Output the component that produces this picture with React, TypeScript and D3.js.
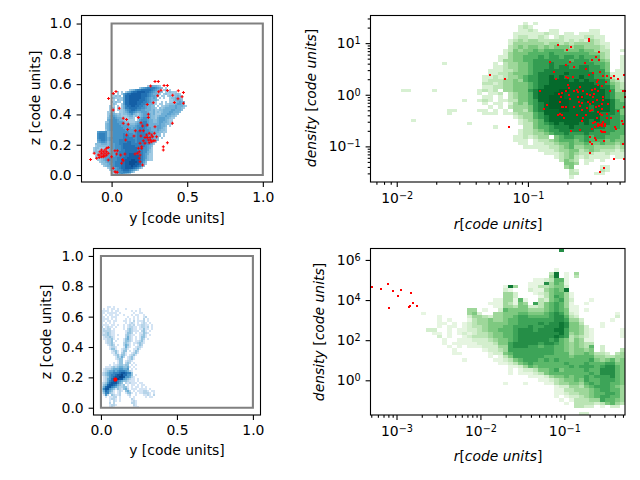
import * as d3 from 'd3'
import React, { useEffect, useRef } from 'react'

// 2d histograms, one string per row from the top, digit = colour level, '.' = empty bin
const topLeftHist = [
  '', '',
  '.......... .......... .......123 3321......',
  '.......... .......... ...1345666 65432.1...',
  '.......... ........12 3566777776 5432.12.1.',
  '.......... ..1.1.1346 7788887765 43222.1121 11',
  '.........1 2.1.146778 8888777654 3321.12111 1221',
  '.......... 1212.47788 8888777654 433.11.121 12321',
  '.........1 2111147788 8888776543 43.1.1..12 23321',
  '.......... 1.21147788 8887776543 331.....11 23332',
  '.........1 1211.47788 8877766543 21..1.1.11 123433',
  '.......... 21..147788 8877665433 11.11.1122 234432',
  '........1. 1.1.136778 8776654332 2.1.112233 3433321',
  '........11 2.1.136677 7766554332 21.2123333 343321',
  '........12 1.11124567 7655443332 3112233334 43332',
  '.......112 2..1123466 5433444322 3121233344 3332',
  '.......124 3212122345 3212344432 3111333443 322',
  '.......135 4322111233 1212344432 2123334332 21',
  '.......234 5433211122 1.13455432 2134443321 1',
  '.......345 5543321111 1.14555433 2234443211',
  '......1245 5544432211 1234566433 2234433211',
  '......2345 5554443322 2345666433 3334332211',
  '......2345 5555444433 3455666433 3344332.1.',
  '......2345 5555544443 4456665443 3344321...',
  '......1345 5555554444 4556665543 3343221...',
  '..45555234 5555555544 4566665544 3332211',
  '..56665234 5555565555 4566666544 3322.1',
  '..56665234 5555566655 5566666544 3322.1',
  '..56665345 5555566666 5566666554 332.1',
  '..45665344 5556666666 6566666554 322',
  '..34554234 5556666776 6566666543 21',
  '.222333234 4556677776 6666665543 1',
  '.122222234 4555677777 7666665432',
  '1221112234 4555677777 7766655431',
  '1211111233 4555667777 7766655421',
  '1221122234 4456667777 7776655321',
  '.121222344 4456667788 8776654311',
  '.112233444 4556667788 8887654211',
  '.112234455 5566677888 8887654211',
  '..11234455 5566778889 9887653211',
  '...1223445 5666778899 9987642',
  '....122344 5666778899 9887531',
  '.....12334 5666778889 887642',
  '.......123 3456778888 76531',
  '........12 3455677765 431',
  '.........1 2345566653 1',
  '.........1 123454321'
]

const bottomLeftHist = [
  '...11.1...',
  '.1.1.11.1. ..1......1',
  '1111.1.11. .....1.1.1',
  '11.11111.1 ......1..1 1',
  '1.1.11.11. .1...1.11. .1',
  '11.1.111.. ...1..1.1. .12',
  '1111.1.1.. ..1.1.1.1. .2.1',
  '11.11.11.. .11.1.2.11 12.1',
  '1.1.1.1... ..1.121.1. 121.1',
  '1111.11.1. .1.1212.11 2211.1',
  '2.1211.1.. .1.12211.1 2212.1',
  '12122.1... .1.23211.1 1311.1',
  '1222211... ..1232111. 231.1',
  '1123211... ..1332.1.1 1321',
  '1223211.1. ..23211..1 231.1',
  '.122321... ..2421.1.1 331',
  '.112231.1. .13421.1.1 32.1',
  '..1223.1.. .13321.112 31',
  '..12231... .2321.1123 21',
  '...1232.1. .2431.1.13 2.',
  '....1221.. .1421..122 1',
  '....1331.. 1231..1131',
  '.....1231. 133.1.132.',
  '.....1131. 231..1231.',
  '......1231 331.1231..',
  '.......132 42.1231...',
  '.......123 3..1231...',
  '........13 3.1221....',
  '......1.13 3.232.1...',
  '....1.1123 3233.1.1..',
  '..11123234 43341.1...',
  '.122234445 5445.1.1..',
  '.123445456 665421....',
  '1234556667 887663....',
  '1234566788 977553.1..',
  '.123567889 9855421...',
  '.124578898 8543211.1.',
  '.124678865 4332111.1.',
  '1235788864 3.212111.1 1',
  '1347887643 23.1.11.1. 11',
  '2478865432 2331.1.11. 1.1',
  '3688543132 1342.111.1 111.1',
  '2476431.12 1.342.1.11 1221.11',
  '1366321.12 ..1331.1.1 12221.1',
  '.152.32112 ...12..1.. .1121.2',
  '..1.1122.1 ....1.1... ..1.11',
  '....1221.1 .....21...',
  '....1.21.1 .....121..',
  '....2.2... .....221..',
  '....1221.. ......21..',
  '....121... ......111.'
]

const topRightHist = [
  '', '',
  '.......... .......... .......... 1.1.......',
  '.......... .......... .........1 21........',
  '.......... .......... .........1 121..11... ...11.....',
  '.......... .......... ........11 1111211.11 .1111.....',
  '.......... .......... ........12 21121.1211 112211....',
  '.......... .......... .......123 2332222212 121321....',
  '.......... .......... .......133 3333233232 3333211...',
  '.......... .......... .......234 3443434443 4433321...',
  '.......... .......... ......1243 4454555544 4544322..1',
  '.......... .......... ......1344 4555565555 5554432...',
  '.......... .......... .....11344 5556566566 5655532..1',
  '.......... .......... .....13344 5566666665 6665543..1',
  '.......... ....1..... ....1.2334 4566676666 6666554..1',
  '.......... .......... ....112334 4566676776 6776654..1',
  '.......... .......... ...1112234 4566777777 7776664.11',
  '.......... .......... ...1122344 4567777787 7777665111',
  '.......... .......... ..11212334 5667787877 7877665211',
  '.......... .......... ..12223343 5667788887 8787776321',
  '.......... .......... ..22123344 4567788888 8888776432',
  '.......... .......... ..11223344 4567888888 8888877532',
  '......11.. ..1....... .1212.3344 4678888998 8888887633',
  '.......... .......... .1.112.234 4578889988 8888887644',
  '.......... .......... ..11.1.234 4578899988 8988887644',
  '.......... ........1. .121.11224 4568899998 8898888754',
  '.......... .......... ..1.11.134 3567899998 8888888755',
  '.......... .......... ...1.1.233 3467899998 8887888755',
  '.......... .....11... .11.1.1.33 2467888998 8887888764',
  '.......... .....1.... ..111.1123 3356888888 8888877764',
  '.......... .......... ........12 3356788888 8888877665',
  '........1. .......... .........1 2345788888 8887877665',
  '.......... .........1 .........1 2245678788 8787777665',
  '.......... .......... ....1..... 2245567778 7777776665',
  '.......... .......... .........1 2234566777 7777666655',
  '.......... .......... .........1 2233456676 6676666555',
  '.......... .......... ........11 21233.4566 5565665554',
  '.......... .......... ........11 1.12234555 4565554544',
  '.......... .......... .........1 1.11223445 4454454434',
  '.......... .......... .......... 1111122345 3344333323',
  '.......... .......... .......... ...1112334 4234322212',
  '.......... .......... .......... ....111234 3222112111',
  '.......... .......... .......... ......1234 2121111.11',
  '.......... .......... .......... .......243 2.11.1....',
  '.......... .......... .......... ........44 3.1.......',
  '.......... .......... .......... ........34 .....11...',
  '.......... .......... .......... .........2 1....21...',
  '.......... .......... .......... .........2 2...11....',
  '.......... .......... .......... .........1'
]

const bottomRightHist = [
  '.......... .......... .......... .......8..',
  '', '', '', '', '',
  '.......... .......... .......... ......1...',
  '.......... .......... .......... .....39.1. 4.........',
  '.......... .......... .......... .....49.1. 3.........',
  '.......... .......... .......... ..1123661.',
  '.......... .......... .......... .11184651.',
  '.......... .......... ......194. .11334552.',
  '.......... .......... ......21.. .21145659.',
  '.......... .......... ......442. ..12356641',
  '.......... .......... ......442. ...1357641',
  '.......... .......... ....114416 1..3256742 ...1......',
  '.......... .......... ...1114315 4.73567641 ..1.......',
  '.......... .......... ....114435 5223567641 1.........',
  '.......... .........4 4.1..26555 5444567651 1.1.......',
  '.......... 1........4 52..445556 6555678752 1.......1.',
  '.......... ...1.....2 4432445567 7666678863 2.......2.',
  '.......... ...1.1...1 3445445667 7777778874 42.....1..',
  '.......... ...11.1.12 3445555667 7778788985 53...1....',
  '.......... ...1.11.12 3345556677 7877888985 542..1....',
  '.......... .22..1.112 2345566678 8878889975 5421.....1',
  '.......... ..11.1.121 2334556678 8888888974 5421.....1',
  '.......... ...2.1..12 3334556678 8888889873 4321.....1',
  '.......... ....1..111 2223455678 8888878653 5411......',
  '.......... ....1.1111 1222355788 8887887654 5433......',
  '.......... .....1.1.1 1122244788 8776776654 5436.2....',
  '.......... ......1... ..12234777 7777776654 5545.2...3',
  '.......... ......11.. ...1225677 7777776664 5565332.34',
  '.......... .......... ...1.13577 7777666665 6666443344',
  '.......... ........1. ....112356 7776767666 6667545645',
  '.......... .......... .....11235 6766666676 6676667755',
  '.......... .......... .......112 4656666667 6777678865',
  '.......... .......... .......1.1 2235567566 6676688865',
  '.......... .......... .......1.1 1123566666 6667688865',
  '.......... .......... .......... .111245565 6676777865',
  '.......... .......... .......... ...1123455 6576677765',
  '.......... .......... ......1... 1...113445 5467677665',
  '.......... .......... .......... ......1224 4356777654',
  '.......... .......... .......... ......1133 4445677664',
  '.......... .......... .......... ......1123 3445667764',
  '.......... .......... .......... ......1.12 2345677664',
  '.......... .......... .......... .......1.1 3334476654',
  '.......... .......... .......... ........1. 3333235643',
  '.......... .......... .......... .......... 3322.1.22.',
  '',
  '.......... .......... .......... .......... .22.......'
]

// red particles, y and z in code units
const topLeftRedY = [.287,.309,.258,.347,.369,.311,.327,.369,.441,.475,.305,.404,.439,.466,.415,.475,.276,.402,-.02,.011,.029,.051,.011,.236,.243,.177,.077,.099,.11,.077,.194,.243,.236,.287,.106,.188,.157,.205,.21,.099,.148,.093,.194,.232,.249,.265,.236,.254,.272,.243,.258,.276,.249,.265,.287,.298,.283,.21,.221,.342,.342,.369,.188,.177,.199,.183,.188,.17,.199,.183,.188,.205,.155,.221,-.115,-.099,-.139,-.088,-.077,-.077,-.066,-.066,-.066,-.055,-.055,-.055,-.044,-.044,-.044,-.033,-.033,-.033,-.022,-.022,-.022,-.082,.022,.038,.033,.06,.073,.066,0,.011,.029,.022,.038,.077,.088]
const topLeftRedZ = [.618,.618,.587,.591,.591,.549,.56,.558,.556,.545,.523,.527,.503,.516,.479,.473,.477,.341,.505,.538,.552,.44,.429,.466,.402,.38,.374,.367,.336,.341,.345,.38,.33,.319,.301,.292,.292,.323,.292,.264,.257,.231,.257,.264,.275,.264,.248,.248,.253,.231,.231,.226,.213,.22,.226,.253,.275,.226,.248,.187,.165,.213,.209,.176,.176,.154,.132,.143,.187,.11,.088,.066,.138,.209,.143,.11,.103,.132,.154,.132,.165,.143,.121,.154,.132,.121,.165,.143,.125,.176,.154,.132,.182,.143,.099,.116,.16,.16,.138,.132,.103,.077,.121,.044,.018,.022,.018,.095,.138]

const bottomLeftRedY = [.089,.091,.092,.093,.094,.094,.095,.095,.096,.097,.098,.099,.1,.101]
const bottomLeftRedZ = [.186,.182,.19,.185,.179,.188,.183,.192,.186,.181,.189,.184,.187,.183]

// log10 of radius and density for the red particles
const topRightRedR = [-1.29,-1.175,-1.145,-.909,-.878,-.858,-.832,-.787,-.802,-.774,-.7,-.668,-.706,-.68,-.65,-.538,-.538,-.457,-.48,-.457,-.566,-.515,-.56,-.533,-.503,-.452,-.43,-.4,-.343,-.363,-.312,-.269,-.71,-.693,-.66,-.693,-.685,-.706,-.744,-.761,-.751,-.756,-.731,-.744,-.706,-.756,-.726,-.744,-.769,-.68,-.685,-.65,-.629,-.604,-.617,-.579,-.591,-.617,-.609,-.65,-.624,-.604,-.584,-.591,-.579,-.591,-.561,-.548,-.541,-.528,-.548,-.49,-.515,-.464,-.495,-.477,-.464,-.464,-.439,-.406,-.376,-.503,-.472,-.503,-.528,-.482,-.462,-.508,-.523,-.464,-.439,-.426,-.43,-.439,-.388,-.396,-.312,-.282,-.279,-.274,-.261,-.261,-.269,-.503,-.452,-.439,-.477,-.49,-.464,-.452,-.426,-.413,-.439,-.413,-.464,-.439,-.49,-.401,-.363,-.338,-.325,-.515,-.439,-.426,-.413,-.444,-.668,-.604,-.528,-.523,-.508,-.49,-.482,-.421,-.523,-.279,-.345,-.269,-.452,-.421]
const topRightRedD = [.39,.3,-.62,.08,-.27,-.2,.64,.31,.44,.97,.87,.92,.58,.64,.53,1.08,1.05,.82,.74,.67,.61,.67,.5,.39,.42,.44,.37,.37,.37,.32,.3,.39,.35,.33,.34,.18,.135,.08,.03,.02,-.045,-.14,-.24,-.24,-.24,-.37,-.45,-.4,-.4,-.08,-.01,.08,.1,.15,.05,.08,-.045,-.045,-.14,-.24,-.39,-.225,-.16,-.3,-.46,-.5,-.4,-.25,-.14,-.01,.02,.115,.1,.07,.02,.245,.18,.28,.16,.245,.07,-.045,-.11,-.14,-.17,-.24,-.225,-.29,-.315,-.33,-.27,-.045,-.11,-.185,-.17,-.37,-.315,-.5,-.56,.08,.07,-.045,-.24,-.55,-.37,-.4,-.46,-.53,-.56,-.59,-.53,-.56,-.56,-.61,-.61,-.61,-.62,-.46,-.46,-.62,-.66,-.66,-.72,-.72,-.72,-.7,-.7,-.69,-.82,-.91,-.945,-.83,-.87,-.9,-1.12,-.96,-1.235,-1.235,-1.5,-1.415]

const bottomRightRedR = [-3.298,-3.187,-3.103,-3.044,-2.984,-2.948,-3.091,-2.829,-2.806,-2.841,-2.857,-2.758]
const bottomRightRedD = [4.64,4.54,4.81,4.44,4.2,4.49,3.6,4.36,3.85,3.7,3.66,3.7]

const boxCorners = [[0, 0], [1, 0], [1, 1], [0, 1]]
const linearXTicks = [0, 0.5, 1]
const linearYTicks = [0, 0.2, 0.4, 0.6, 0.8, 1]

const parseRow = (row: string) => row.replace(/ /g, '').split('').map((c) => (c === '.' ? 0 : +c))
const pow10 = (v: number) => Math.pow(10, v)

type Box = { left: number, right: number, top: number, bottom: number }

function frame(g: any, box: Box) {
  g.append('rect')
    .attr('x', box.left).attr('y', box.top)
    .attr('width', box.right - box.left).attr('height', box.bottom - box.top)
    .attr('fill', 'none').attr('stroke', '#000').attr('stroke-width', 1.1)
}

function styleAxis(sel: any) {
  sel.select('.domain').remove()
  sel.selectAll('line').attr('stroke', '#000').attr('stroke-width', 1.1)
  sel.selectAll('text').attr('fill', '#000').attr('font-size', 13.9).attr('font-family', 'DejaVu Sans')
}

function label(g: any, x: number, y: number, rotate: boolean, parts: [string, boolean][]) {
  const t = g.append('text')
    .attr('text-anchor', 'middle').attr('font-size', 13.9).attr('font-family', 'DejaVu Sans')
    .attr('transform', rotate ? `translate(${x},${y}) rotate(-90)` : `translate(${x},${y})`)
  parts.forEach(([s, italic]) => {
    t.append('tspan').attr('font-style', italic ? 'italic' : 'normal').attr('xml:space', 'preserve').text(s)
  })
}

function linearPanel(svg: any, box: Box, xDom: number[], yDom: number[], hist: string[], start: number[], step: number,
  color: (v: number) => string, redY: number[], redZ: number[], marker: string, xLabel: number[], yLabel: number[]) {
  const g = svg.append('g')
  const x = d3.scaleLinear().domain(xDom).range([box.left, box.right])
  const y = d3.scaleLinear().domain(yDom).range([box.bottom, box.top])

  hist.forEach((row, i) => {
    parseRow(row).forEach((v, j) => {
      if (!v) return
      g.append('rect')
        .attr('x', x(start[0] + j * step))
        .attr('y', y(start[1] - i * step))
        .attr('width', x(start[0] + (j + 1) * step) - x(start[0] + j * step))
        .attr('height', y(start[1] - (i + 1) * step) - y(start[1] - i * step))
        .attr('fill', color(v))
        .attr('shape-rendering', 'crispEdges')
    })
  })

  const line = d3.line<number[]>().x((d) => x(d[0])).y((d) => y(d[1])).curve(d3.curveLinearClosed)
  g.append('path').attr('d', line(boxCorners)).attr('fill', 'none').attr('stroke', '#808080').attr('stroke-width', 2.1)

  g.selectAll('.red').data(redY).join('path')
    .attr('d', d3.symbol(marker === 'cross' ? d3.symbolCross : d3.symbolSquare, marker === 'cross' ? 5 : 4)())
    .attr('transform', (d: number, i: number) => `translate(${x(d)},${y(redZ[i])})`)
    .attr('fill', 'red')

  frame(g, box)
  g.append('g').attr('transform', `translate(0,${box.bottom})`)
    .call(d3.axisBottom(x).tickValues(linearXTicks).tickSize(4.9).tickPadding(4.9).tickFormat(d3.format('.1f')))
    .call(styleAxis)
  g.append('g').attr('transform', `translate(${box.left},0)`)
    .call(d3.axisLeft(y).tickValues(linearYTicks).tickSize(4.9).tickPadding(4.9).tickFormat(d3.format('.1f')))
    .call(styleAxis)

  label(g, xLabel[0], xLabel[1], false, [['y [code units]', false]])
  label(g, yLabel[0], yLabel[1], true, [['z [code units]', false]])
}

function powerLabels(sel: any) {
  sel.selectAll('.tick text').each(function (this: any, d: number) {
    const t = d3.select(this)
    t.text('10')
    t.append('tspan')
      .attr('font-size', 9.7).attr('dy', '-0.42em')
      .text(String(Math.round(Math.log10(d))).replace('-', '\u2212'))
  })
}

function logPanel(svg: any, box: Box, xDom: number[], yDom: number[], hist: string[], bins: number, color: (v: number) => string,
  redR: number[], redD: number[], xMajor: number[], yMajor: number[], xMinor: number[], yMinor: number[],
  xLabel: number[], yLabel: number[]) {
  const g = svg.append('g')
  const x = d3.scaleLog().domain(xDom.map(pow10)).range([box.left, box.right])
  const y = d3.scaleLog().domain(yDom.map(pow10)).range([box.bottom, box.top])
  const xEdge = (j: number) => x(pow10(xDom[0] + (j * (xDom[1] - xDom[0])) / bins))
  const yEdge = (i: number) => y(pow10(yDom[1] - (i * (yDom[1] - yDom[0])) / bins))

  hist.forEach((row, i) => {
    parseRow(row).forEach((v, j) => {
      if (!v) return
      g.append('rect')
        .attr('x', xEdge(j)).attr('y', yEdge(i))
        .attr('width', xEdge(j + 1) - xEdge(j)).attr('height', yEdge(i + 1) - yEdge(i))
        .attr('fill', color(v))
        .attr('shape-rendering', 'crispEdges')
    })
  })

  g.selectAll('.red').data(redR).join('path')
    .attr('d', d3.symbol(d3.symbolSquare, 4)())
    .attr('transform', (d: number, i: number) => `translate(${x(pow10(d))},${y(pow10(redD[i]))})`)
    .attr('fill', 'red')
    .attr('shape-rendering', 'crispEdges')

  frame(g, box)
  g.append('g').attr('transform', `translate(0,${box.bottom})`)
    .call(d3.axisBottom(x).tickValues(xMinor).tickSize(2.8).tickFormat(() => ''))
    .call(styleAxis)
  g.append('g').attr('transform', `translate(${box.left},0)`)
    .call(d3.axisLeft(y).tickValues(yMinor).tickSize(2.8).tickFormat(() => ''))
    .call(styleAxis)
  g.append('g').attr('transform', `translate(0,${box.bottom})`)
    .call(d3.axisBottom(x).tickValues(xMajor).tickSize(4.9).tickPadding(6))
    .call(styleAxis).call(powerLabels)
  g.append('g').attr('transform', `translate(${box.left},0)`)
    .call(d3.axisLeft(y).tickValues(yMajor).tickSize(4.9).tickPadding(4.9))
    .call(styleAxis).call(powerLabels)

  label(g, xLabel[0], xLabel[1], false, [['r', true], ['[', false], ['code units', true], [']', false]])
  label(g, yLabel[0], yLabel[1], true, [['density', true], [' [', false], ['code units', true], [']', false]])
}

const minorTicks = (lo: number, hi: number) =>
  d3.range(lo, hi).flatMap((e) => d3.range(2, 10).map((m) => m * pow10(e)))

// the histogram levels are read by eye, these bring them back onto the colormaps
const blueTop = (v: number) => d3.interpolateBlues(0.3 + 0.065 * v)
const blueBottom = (v: number) => d3.interpolateBlues(0.92 * Math.pow(v / 9, 0.75))
const greenTop = (v: number) => d3.interpolateGreens(Math.min(0.92, 0.08 + 0.1 * v))
const greenBottom = (v: number) => d3.interpolateGreens(0.09 * v + 0.02)

export default function App() {
  const svgRef = useRef(null)

  useEffect(() => {
    const svg = d3.select(svgRef.current)
    svg.selectAll('*').remove()

    linearPanel(svg, { left: 81.5, right: 272.5, top: 15.5, bottom: 182 }, [-0.199, 1.064], [-0.046, 1.053],
      topLeftHist, [-0.124, 0.62], 0.01325, blueTop, topLeftRedY, topLeftRedZ, 'cross', [177, 223], [40, 98])
    linearPanel(svg, { left: 93.5, right: 260.5, top: 248.5, bottom: 415 }, [-0.049, 1.05], [-0.048, 1.049],
      bottomLeftHist, [0.002, 0.669], 0.01316, blueBottom, bottomLeftRedY, bottomLeftRedZ, 'square', [177, 455], [51, 332])

    logPanel(svg, { left: 370.5, right: 625, top: 15.5, bottom: 182 }, [-2.2, -0.26], [-1.69, 1.535],
      topRightHist, 50, greenTop, topRightRedR, topRightRedD, [0.01, 0.1], [0.1, 1, 10],
      minorTicks(-3, 0).filter((v) => v > 0.0063 && v < 0.55), minorTicks(-2, 2).filter((v) => v > 0.0204 && v < 34),
      [498, 229], [316, 98])
    logPanel(svg, { left: 370.5, right: 625, top: 248.5, bottom: 415 }, [-3.31, -0.277], [-1.73, 6.57],
      bottomRightHist, 50, greenBottom, bottomRightRedR, bottomRightRedD, [0.001, 0.01, 0.1], [1, 100, 10000, 1000000],
      minorTicks(-4, 0).filter((v) => v > 0.00049 && v < 0.53), [],
      [498, 461], [324, 332])
  }, [])

  return <svg ref={svgRef} width={640} height={480} style={{ position: 'absolute', left: 0, top: 0 }} />
}
